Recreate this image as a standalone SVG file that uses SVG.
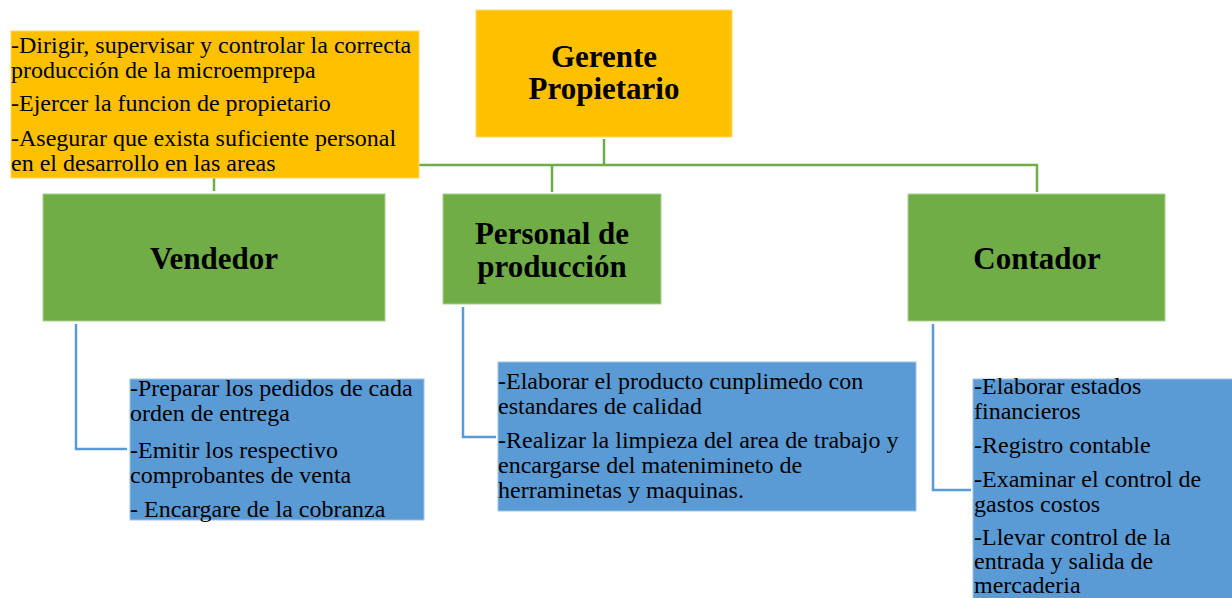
<svg xmlns="http://www.w3.org/2000/svg" width="1232" height="598" viewBox="0 0 1232 598">
<style>
.bg{fill:#ffffff}
.orange{fill:#FFC000;stroke:#FFD966;stroke-width:1}
.green{fill:#70AD47;stroke:#A9D18E;stroke-width:1}
.blue{fill:#5B9BD5;stroke:#9DC3E6;stroke-width:1}
.gl{fill:none;stroke:#70AD47;stroke-width:2.5}
.bl{fill:none;stroke:#5B9BD5;stroke-width:2.5}
.t{font-family:"Liberation Serif","Times New Roman",serif;font-size:24px;fill:#000}
.h{font-family:"Liberation Serif","Times New Roman",serif;font-size:31px;font-weight:bold;fill:#000;text-anchor:middle}
</style>
<rect class="bg" x="0" y="0" width="1232" height="598"/>
<g id="connectors">
<polyline class="gl" points="604,139 604,165"/>
<polyline class="gl" points="214,191 214,165 1037,165 1037,192"/>
<polyline class="gl" points="552,165 552,192"/>
<polyline class="bl" points="76,324 76,449 127,449"/>
<polyline class="bl" points="463,307 463,437 496,437"/>
<polyline class="bl" points="933,324 933,490 971,490"/>
</g>
<g id="gerente-notes">
<rect class="orange" x="11" y="31" width="408" height="147"/>
<text class="t" x="11" y="53">-Dirigir, supervisar y controlar la correcta</text>
<text class="t" x="11" y="78">producción de la microemprepa</text>
<text class="t" x="11" y="111">-Ejercer la funcion de propietario</text>
<text class="t" x="11" y="146">-Asegurar que exista suficiente personal</text>
<text class="t" x="11" y="171">en el desarrollo en las areas</text>
</g>
<g id="gerente">
<rect class="orange" x="476" y="10" width="256" height="127"/>
<text class="h" x="604" y="67">Gerente</text>
<text class="h" x="604" y="99">Propietario</text>
</g>
<g id="vendedor">
<rect class="green" x="43" y="194" width="342" height="127"/>
<text class="h" x="214" y="269">Vendedor</text>
</g>
<g id="personal">
<rect class="green" x="443" y="194" width="218" height="110"/>
<text class="h" x="552" y="244">Personal de</text>
<text class="h" x="552" y="277">producción</text>
</g>
<g id="contador">
<rect class="green" x="908" y="194" width="257" height="127"/>
<text class="h" x="1037" y="269">Contador</text>
</g>
<g id="vendedor-tareas">
<rect class="blue" x="130" y="379" width="294" height="141"/>
<text class="t" x="130" y="396">-Preparar los pedidos de cada</text>
<text class="t" x="130" y="421">orden de entrega</text>
<text class="t" x="130" y="458">-Emitir los respectivo</text>
<text class="t" x="130" y="483">comprobantes de venta</text>
<text class="t" x="130" y="517">- Encargare de la cobranza</text>
</g>
<g id="personal-tareas">
<rect class="blue" x="498" y="362" width="418" height="149"/>
<text class="t" x="498" y="389">-Elaborar el producto cunplimedo con</text>
<text class="t" x="498" y="414">estandares de calidad</text>
<text class="t" x="498" y="448">-Realizar la limpieza del area de trabajo y</text>
<text class="t" x="498" y="473">encargarse del matenimineto de</text>
<text class="t" x="498" y="498">herraminetas y maquinas.</text>
</g>
<g id="contador-tareas">
<rect class="blue" x="973" y="379" width="270" height="230"/>
<text class="t" x="974" y="394">-Elaborar estados</text>
<text class="t" x="974" y="419">financieros</text>
<text class="t" x="974" y="453">-Registro contable</text>
<text class="t" x="974" y="487">-Examinar el control de</text>
<text class="t" x="974" y="512">gastos costos</text>
<text class="t" x="974" y="545">-Llevar control de la</text>
<text class="t" x="974" y="569">entrada y salida de</text>
<text class="t" x="974" y="593">mercaderia</text>
</g>
</svg>
